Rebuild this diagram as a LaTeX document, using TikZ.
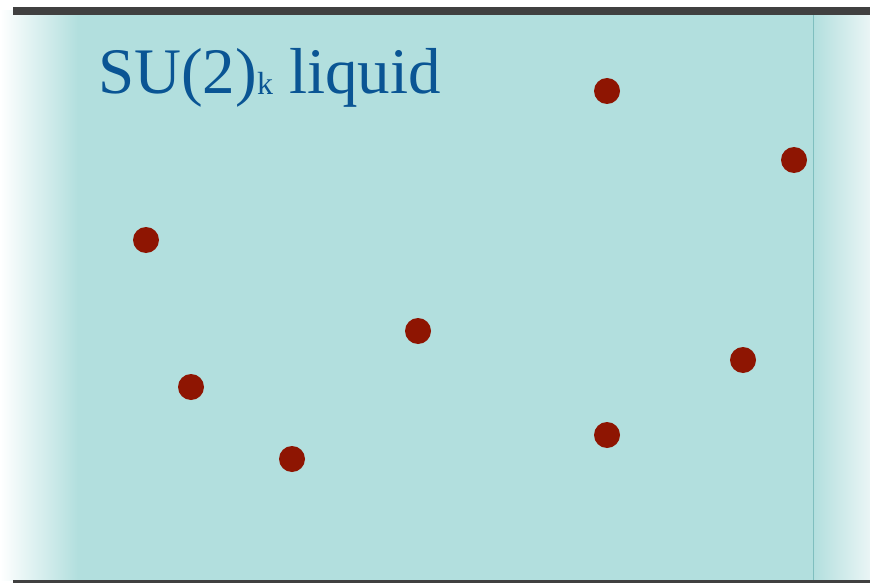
\documentclass[tikz,border=0pt]{standalone}
\usepackage{fontspec}
\setmainfont{Liberation Serif}
\usetikzlibrary{positioning}
\definecolor{cLiquid}{HTML}{B2DFDE}
\definecolor{cEdge}{HTML}{7FBFBF}
\definecolor{cFade}{HTML}{EAF5F5}
\definecolor{cBar}{HTML}{404040}
\definecolor{cTitle}{HTML}{0A5594}
\definecolor{cAnyon}{HTML}{8E1502}

\begin{document}
\begin{tikzpicture}[
  x=1pt, y=-1pt,
  anyon/.style={circle, fill=cAnyon, inner sep=0pt, minimum size=26pt},
  ttl/.style={font=\fontsize{65}{68}\selectfont, text=cTitle, anchor=base west, inner sep=0pt},
  bar/.style={draw=cBar, line width=8pt},
  rim/.style={draw=cBar, line width=3pt}
]
\useasboundingbox (0,0) rectangle (870,583);

% LIQUID STRIP
\fill[cLiquid] (78,11) rectangle (813,580);
\shade[left color=white, right color=cLiquid] (0,11) rectangle (78,580);
\shade[left color=cLiquid, right color=cFade] (813,11) rectangle (870,580);
\draw[cEdge, line width=1pt] (813,11) -- (813,580);

% BOUNDARIES
\coordinate (tl) at (13,11);
\coordinate (tr) at (870,11);
\coordinate (bl) at (13,581.5);
\coordinate (br) at (870,581.5);
\draw[bar] (tl) -- (tr);
\draw[rim] (bl) -- (br);

% LABEL
\node[ttl] (title) at (98,94) {SU(2)\raisebox{-1pt}{\fontsize{32}{34}\selectfont k} liquid};

% ANYONS
\node[anyon] (p1) at (607,91) {};
\node[anyon] (p2) at (794,160) {};
\node[anyon] (p3) at (146,240) {};
\node[anyon] (p4) at (418,331) {};
\node[anyon] (p5) at (743,360) {};
\node[anyon] (p6) at (191,387) {};
\node[anyon] (p7) at (607,435) {};
\node[anyon] (p8) at (292,459) {};

\end{tikzpicture}
\end{document}
